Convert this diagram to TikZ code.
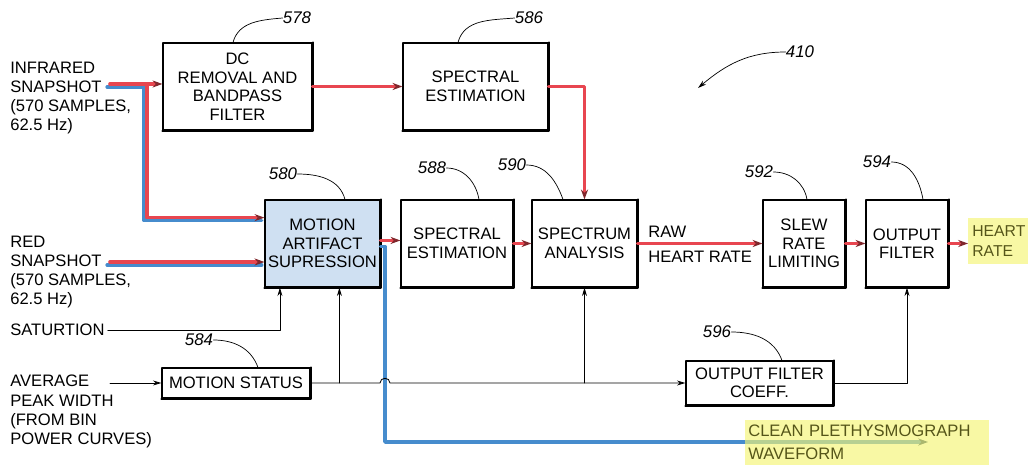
\documentclass[tikz,border=0pt]{standalone}
\usepackage{fontspec}
\setmainfont{Liberation Sans}
\usetikzlibrary{arrows.meta,calc}
\definecolor{sigred}{RGB}{232,70,80}
\definecolor{sigblue}{RGB}{70,140,205}
\definecolor{masfill}{RGB}{207,224,242}
\definecolor{hilite}{RGB}{245,245,115}
\definecolor{hltext}{RGB}{85,85,25}
\begin{document}
\begin{tikzpicture}[x=0.025cm,y=-0.025cm,line cap=round,line join=round,
  every node/.style={font=\fontsize{11.8}{13.2}\selectfont},
  heavy/.style={line width=1.5pt,line cap=square},
  blk/.style={draw,line width=0.8pt,align=center,inner sep=0pt,minimum height=2.175cm,
    append after command={(\tikzlastnode.south west) edge[heavy] (\tikzlastnode.south east)
      (\tikzlastnode.south east) edge[heavy] (\tikzlastnode.north east)}},
  txt/.style={align=left,inner sep=0pt,anchor=west,font=\fontsize{11.8}{13.6}\selectfont},
  refnum/.style={font=\fontsize{12}{13}\selectfont\itshape,inner sep=0pt},
  lead/.style={line width=0.5pt},
  ctl/.style={line width=0.6pt,-{Stealth[length=6pt,width=3.5pt]}},
  redln/.style={draw=sigred,line width=2.6pt,-{Stealth[length=7pt,width=5pt,color=sigred!55!black]}},
  blueln/.style={draw=sigblue,line width=2.6pt},
  hlbox/.style={fill=hilite,fill opacity=0.65,text opacity=1,text=hltext,align=left,anchor=west}]
  \useasboundingbox (0,0) rectangle (1028,465);
  % blocks
  \node[blk,minimum width=3.725cm] (dcbpf) at (237.5,86.5) {DC\\REMOVAL AND\\BANDPASS\\FILTER};
  \node[blk,minimum width=3.625cm] (specA) at (475.5,86.5) {SPECTRAL\\ESTIMATION};
  \node[blk,fill=masfill,minimum width=2.875cm] (mas) at (322.5,243.5) {MOTION\\ARTIFACT\\SUPRESSION};
  \node[blk,minimum width=2.8cm] (specB) at (457,243.5) {SPECTRAL\\ESTIMATION};
  \node[blk,minimum width=2.625cm] (sa) at (584.5,243.5) {SPECTRUM\\ANALYSIS};
  \node[blk,minimum width=2.05cm] (srl) at (804,243.5) {SLEW\\RATE\\LIMITING};
  \node[blk,minimum width=2.05cm] (of) at (907,243.5) {OUTPUT\\FILTER};
  \node[blk,minimum width=3.7cm,minimum height=0.75cm] (ms) at (236,383) {MOTION STATUS};
  \node[blk,minimum width=3.675cm,minimum height=1.1cm] (ofc) at (759.5,383) {OUTPUT FILTER\\COEFF.};
  % inputs and labels
  \node[txt] (irlbl) at (10,98) {INFRARED\\SNAPSHOT\\(570 SAMPLES,\\62.5 Hz)};
  \node[txt] (rdlbl) at (10,272) {RED\\SNAPSHOT\\(570 SAMPLES,\\62.5 Hz)};
  \node[txt] (sat) at (10,330) {SATURTION};
  \node[txt] (avglbl) at (10,411.5) {AVERAGE\\PEAK WIDTH\\(FROM BIN\\POWER CURVES)};
  \node[txt] (rawlbl) at (648,232) {RAW};
  \node[txt] (hrlbl) at (648,257) {HEART RATE};
  \coordinate (irin) at (110,84); \coordinate (irj) at (147,84);
  \coordinate (rdin) at (110,262); \coordinate (avgin) at (110,383);
  \coordinate (hop) at (385,383); \coordinate (cpwend) at (928,442);
  \coordinate (c410) at (698,88);
  % signal paths
  \begin{scope}[transform canvas={xshift=-0.07cm,yshift=-0.075cm}]
    \draw[blueln] (irin) -- (irj) |- (mas.156);
    \draw[blueln] (rdin) -- (rdin -| mas.west);
  \end{scope}
  \draw[redln] (irin) -- (irin -| dcbpf.west);
  \draw[redln] (irj) |- (mas.156);
  \draw[redln] (rdin) -- (rdin -| mas.west);
  \draw[blueln,-{Stealth[length=7pt,width=5pt,color=sigblue!50!black]}] (mas.357) -| (hop |- cpwend) -- (cpwend);
  \draw[redln] (dcbpf) -- (specA);
  \draw[redln] (specA.east) -| (sa.north);
  \draw[redln] (mas.3) -- (mas.3 -| specB.west);
  \draw[redln] (specB) -- (sa);
  \draw[redln] (sa) -- (srl);
  \draw[redln] (srl) -- (of);
  \node[hlbox,inner xsep=0.075cm,minimum height=1.125cm,text width=5.95cm,
    font=\fontsize{11.8}{16.3}\selectfont] (cpw) at (745,442.5) {CLEAN PLETHYSMOGRAPH\\WAVEFORM};
  \node[hlbox,inner xsep=0.1cm,minimum height=1.15cm,font=\fontsize{11.2}{14.5}\selectfont] (hr) at (968,241) {HEART\\RATE};
  \draw[redln] (of.east) -- (of.east -| hr.west);
  % control lines
  \draw[ctl] ([xshift=2pt]sat.east) -| (mas.226);
  \draw[ctl] (avgin) -- (ms);
  \draw[ctl] (ms) -- ($(hop)+(-5,0)$) to[out=90,in=90,looseness=1.6] ($(hop)+(5,0)$) -- (ofc);
  \draw[ctl] (mas.291 |- ms) -- (mas.291);
  \draw[ctl] (sa.south |- ms) -- (sa.south);
  \draw[ctl] (ofc) -| (of.south);
  % reference numerals
  \node[refnum] (n578) at (297,18) {578};
  \draw[lead] (n578.west) to[out=185,in=75] ($(dcbpf.north)+(-4.5,0)$);
  \node[refnum] (n586) at (529,18) {586};
  \draw[lead] (n586.west) to[out=185,in=75] ($(specA.north)+(-17.5,0)$);
  \node[refnum] (n580) at (283,174) {580};
  \draw[lead] (n580.east) to[out=0,in=105] ($(mas.north)+(22.5,0)$);
  \node[refnum] (n588) at (432,168) {588};
  \draw[lead] (n588.east) to[out=0,in=100] ($(specB.north)+(22,0)$);
  \node[refnum] (n590) at (512,165) {590};
  \draw[lead] (n590.east) to[out=0,in=110] ($(sa.north)+(-21.5,0)$);
  \node[refnum] (n592) at (759,172) {592};
  \draw[lead] (n592.east) to[out=0,in=100] ($(srl.north)+(3,0)$);
  \node[refnum] (n594) at (877,162) {594};
  \draw[lead] (n594.east) to[out=0,in=100] ($(of.north)+(16,0)$);
  \node[refnum] (n584) at (199,340) {584};
  \draw[lead] (n584.east) to[out=0,in=110] ($(ms.north)+(22,0)$);
  \node[refnum] (n596) at (717,332) {596};
  \draw[lead] (n596.east) to[out=0,in=110] ($(ofc.north)+(22.5,0)$);
  \node[refnum] (n410) at (800,52) {410};
  \draw[lead,-{Stealth[length=6pt,width=3.5pt]}] (n410.west) to[out=180,in=40] (c410);
\end{tikzpicture}
\end{document}
